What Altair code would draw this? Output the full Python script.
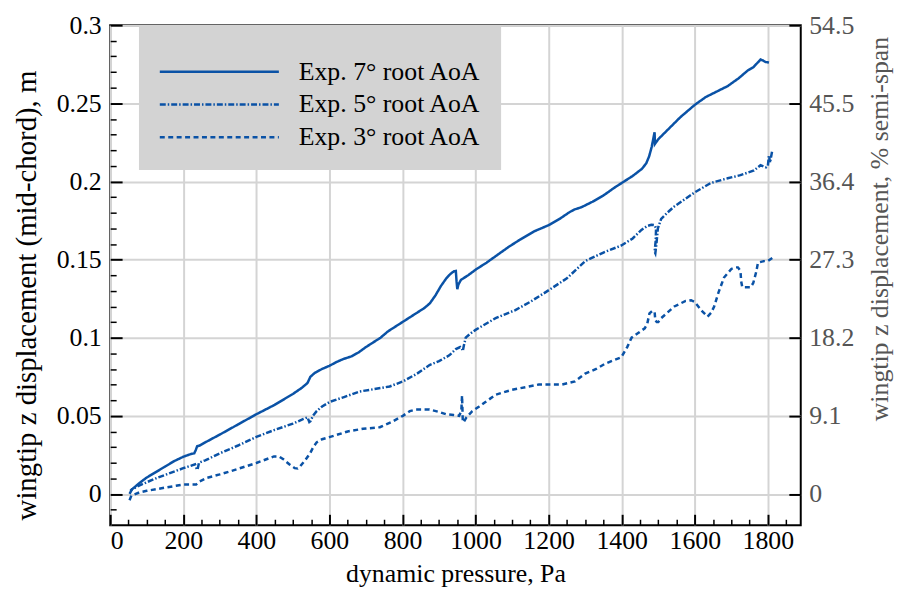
import altair as alt
import pandas as pd

# ---------------- data ----------------
SERIES = ["Exp. 7° root AoA", "Exp. 5° root AoA", "Exp. 3° root AoA"]

q7 = [55, 65, 80, 100, 125, 150, 175, 200, 220, 230, 234, 238, 245, 260, 300, 350, 400, 450, 500, 525,
      540, 545, 548, 560, 580, 600, 620, 640, 660, 680, 700, 720, 740, 760, 780, 800, 820, 840, 860, 875,
      890, 905, 920, 932, 941, 946, 948, 950, 953, 960, 980, 1000, 1030, 1060, 1090, 1120, 1160, 1200, 1230, 1255,
      1270, 1290, 1320, 1350, 1380, 1400, 1430, 1455, 1467, 1475, 1482, 1487, 1490, 1491, 1494, 1500, 1530, 1560, 1600, 1630,
      1660, 1690, 1720, 1745, 1760, 1772, 1780, 1786, 1793, 1803]
z7 = [0.002, 0.004, 0.007, 0.0105, 0.014, 0.0175, 0.021, 0.0238, 0.0255, 0.026, 0.028, 0.0305, 0.031, 0.033, 0.038, 0.0445, 0.051, 0.057, 0.064, 0.068,
      0.071, 0.0735, 0.075, 0.0775, 0.080, 0.082, 0.0845, 0.0865, 0.088, 0.0906, 0.094, 0.097, 0.100, 0.104, 0.107, 0.110, 0.113, 0.116, 0.119, 0.122,
      0.127, 0.133, 0.138, 0.141, 0.1425, 0.1427, 0.136, 0.131, 0.134, 0.137, 0.140, 0.1435, 0.148, 0.153, 0.158, 0.1625, 0.168, 0.172, 0.176, 0.180,
      0.182, 0.1835, 0.187, 0.191, 0.196, 0.199, 0.2035, 0.208, 0.2115, 0.216, 0.222, 0.228, 0.2315, 0.224, 0.225, 0.227, 0.234, 0.241, 0.249, 0.254,
      0.2575, 0.261, 0.266, 0.271, 0.273, 0.276, 0.278, 0.2775, 0.2765, 0.276]

q5 = [53, 60, 76, 100, 130, 160, 200, 220, 232, 236, 239, 243, 260, 300, 350, 400, 450, 500, 529, 540,
      545, 548, 555, 565, 580, 602, 640, 683, 720, 765, 801, 840, 874, 900, 928, 946, 958, 963, 965, 968,
      973, 985, 1000, 1055, 1109, 1150, 1191, 1250, 1300, 1350, 1399, 1430, 1454, 1470, 1481, 1490, 1494, 1493, 1490, 1492,
      1495, 1499, 1508, 1525, 1544, 1600, 1644, 1690, 1725, 1762, 1780, 1795, 1800, 1803, 1806, 1812]
z5 = [0.000, 0.003, 0.005, 0.0075, 0.0105, 0.013, 0.0165, 0.018, 0.019, 0.0165, 0.0155, 0.020, 0.0215, 0.026, 0.031, 0.0365, 0.041, 0.045, 0.048, 0.049,
      0.046, 0.0465, 0.050, 0.053, 0.056, 0.059, 0.062, 0.0656, 0.067, 0.0688, 0.072, 0.077, 0.0825, 0.085, 0.0887, 0.0927, 0.094, 0.093, 0.0915, 0.095,
      0.100, 0.1025, 0.105, 0.1125, 0.1177, 0.123, 0.129, 0.138, 0.149, 0.1545, 0.159, 0.1635, 0.169, 0.1715, 0.1723, 0.172, 0.170, 0.162, 0.155, 0.154,
      0.160, 0.170, 0.176, 0.180, 0.184, 0.193, 0.199, 0.202, 0.204, 0.207, 0.2104, 0.209, 0.210, 0.2167, 0.212, 0.2198]

q3 = [53, 58, 80, 100, 149, 200, 235, 245, 266, 300, 330, 400, 448, 462, 475, 490, 505, 513, 520, 535,
      547, 556, 565, 580, 602, 650, 692, 738, 770, 801, 820, 837, 874, 900, 919, 940, 955, 961, 963, 964,
      965, 967, 975, 991, 1010, 1028, 1055, 1100, 1173, 1236, 1272, 1300, 1330, 1354, 1399, 1415, 1427, 1445, 1463, 1470,
      1476, 1483, 1490, 1492, 1496, 1500, 1508, 1544, 1575, 1590, 1599, 1620, 1635, 1645, 1653, 1665, 1680, 1700, 1710, 1718,
      1725, 1727, 1730, 1753, 1760, 1768, 1773, 1789, 1800, 1812]
z3 = [-0.004, -0.001, 0.001, 0.002, 0.004, 0.006, 0.006, 0.008, 0.0104, 0.0125, 0.0146, 0.0198, 0.024, 0.024, 0.022, 0.019, 0.0165, 0.0163, 0.0177, 0.022,
      0.026, 0.030, 0.033, 0.035, 0.0365, 0.040, 0.0417, 0.0427, 0.046, 0.050, 0.053, 0.054, 0.054, 0.0525, 0.051, 0.0505, 0.050, 0.053, 0.063, 0.055,
      0.047, 0.0458, 0.049, 0.053, 0.056, 0.059, 0.0635, 0.0667, 0.070, 0.070, 0.072, 0.077, 0.080, 0.0833, 0.0875, 0.094, 0.100, 0.103, 0.106, 0.109,
      0.1156, 0.117, 0.1167, 0.111, 0.110, 0.110, 0.1125, 0.120, 0.1235, 0.124, 0.123, 0.117, 0.1135, 0.116, 0.120, 0.129, 0.1385, 0.144, 0.145, 0.145,
      0.1427, 0.136, 0.1323, 0.1323, 0.135, 0.142, 0.148, 0.149, 0.149, 0.151]

X_MAJOR = [0, 200, 400, 600, 800, 1000, 1200, 1400, 1600, 1800]
X_MINOR = [50, 100, 150, 250, 300, 350, 450, 500, 550, 650, 700, 750, 850, 900, 950, 1050, 1100, 1150,
           1250, 1300, 1350, 1450, 1500, 1550, 1650, 1700, 1750, 1850]
Y_MAJOR = [0, 0.05, 0.1, 0.15, 0.2, 0.25, 0.3]
Y_MINOR = [-0.01, 0.01, 0.02, 0.03, 0.04, 0.06, 0.07, 0.08, 0.09, 0.11, 0.12, 0.13, 0.14,
           0.16, 0.17, 0.18, 0.19, 0.21, 0.22, 0.23, 0.24, 0.26, 0.27, 0.28, 0.29]
X_DOMAIN = [0, 1890]
Y_DOMAIN = [-0.02, 0.3]
SEMI_SPAN = 0.55  # m, for the right-hand % axis

# ---------------- build table ----------------
rows = []
for name, qs, zs in zip(SERIES, [q7, q5, q3], [z7, z5, z3]):
    for i, (q, z) in enumerate(zip(qs, zs)):
        rows.append({"series": name, "q": q, "z": z, "i": i})
df = pd.DataFrame(rows)

FONT = "Liberation Serif"
BLUE = "#0a52a6"
GRID = "#d4d4d4"
GREY = "#555555"
FS = 26

xs = alt.Scale(domain=X_DOMAIN, nice=False, zero=False)
ys = alt.Scale(domain=Y_DOMAIN, nice=False, zero=False)

# grid layer
grid = alt.Chart(df).mark_point(opacity=0).encode(
    x=alt.X("q:Q", scale=xs, axis=alt.Axis(orient="bottom", values=X_MAJOR, grid=True, gridColor=GRID,
                                          gridWidth=2, ticks=False, labels=False, domain=False, title=None)),
    y=alt.Y("z:Q", scale=ys, axis=alt.Axis(orient="left", values=Y_MAJOR, grid=True, gridColor=GRID,
                                          gridWidth=2, ticks=False, labels=False, domain=False, title=None)),
)

# minor ticks
minor = alt.Chart(df).mark_point(opacity=0).encode(
    x=alt.X("q:Q", scale=xs, axis=alt.Axis(orient="bottom", values=X_MINOR, tickSize=6, offset=-6,
                                          tickWidth=1.5, tickColor="black", labels=False, domain=False,
                                          grid=False, title=None)),
    y=alt.Y("z:Q", scale=ys, axis=alt.Axis(orient="left", values=Y_MINOR, tickSize=6, offset=-6,
                                          tickWidth=1.5, tickColor="black", labels=False, domain=False,
                                          grid=False, title=None)),
)

# lines with main axes
lines = alt.Chart(df).mark_line(strokeWidth=2.5, color=BLUE).encode(
    x=alt.X("q:Q", scale=xs, axis=alt.Axis(
        orient="bottom", values=X_MAJOR, format="d", tickSize=11, offset=-11, tickWidth=2, tickColor="black",
        labelPadding=2, labelFont=FONT, labelFontSize=FS, labelColor="black",
        titlePadding=8, titleFont=FONT, titleFontSize=FS, titleFontWeight="normal", titleColor="black",
        domain=False, grid=False, title="dynamic pressure, Pa")),
    y=alt.Y("z:Q", scale=ys, axis=alt.Axis(
        orient="left", values=Y_MAJOR, format="~g", tickSize=12, offset=-12, tickWidth=2, tickColor="black",
        labelPadding=9, labelFont=FONT, labelFontSize=FS, labelColor="black",
        titlePadding=15, titleFont=FONT, titleFontSize=29, titleFontWeight="normal", titleColor="black",
        titleY=272,
        domain=False, grid=False, title="wingtip z displacement (mid-chord), m")),
    strokeDash=alt.StrokeDash(
        "series:N",
        scale=alt.Scale(domain=SERIES, range=[[1, 0], [6, 2, 1.5, 2], [5, 3.5]]),
        legend=alt.Legend(orient="none", legendX=29, legendY=1, title=" ", titleFontSize=8, titlePadding=5,
                          symbolType="M-2,0H18", symbolSize=144, symbolStrokeWidth=2.5,
                          symbolStrokeColor=BLUE, labelFont=FONT, labelFontSize=FS, labelColor="black",
                          labelOffset=115, labelLimit=400, fillColor="#d3d3d3", padding=20, rowPadding=7),
    ),
    order=alt.Order("i:Q"),
)

# right-hand % semi-span axis
right = alt.Chart(df).mark_point(opacity=0).encode(
    y=alt.Y("z:Q", scale=ys, axis=alt.Axis(
        orient="right", values=Y_MAJOR, tickSize=12, offset=-12, tickWidth=2, tickColor="black", labelPadding=8,
        labelExpr=f"datum.value == 0 ? '0' : format(datum.value / {SEMI_SPAN} * 100, '.1f')",
        labelFont=FONT, labelFontSize=FS, labelColor=GREY,
        titleFont=FONT, titleFontSize=FS, titleFontWeight="normal", titleColor=GREY,
        titleAngle=270, titlePadding=39, titleY=205,
        domain=False, grid=False, title="wingtip z displacement, % semi-span")),
)

chart = alt.layer(grid, minor, lines, right).resolve_axis(
    x="independent", y="independent"
).properties(
    width=696, height=504,
    autosize=alt.AutoSizeParams(type="none"),
    padding={"left": 103, "top": 15, "right": 95, "bottom": 62},
).configure_view(
    stroke="black", strokeWidth=2
)

chart.save("out.html", embed_options={"renderer": "svg", "actions": False})
